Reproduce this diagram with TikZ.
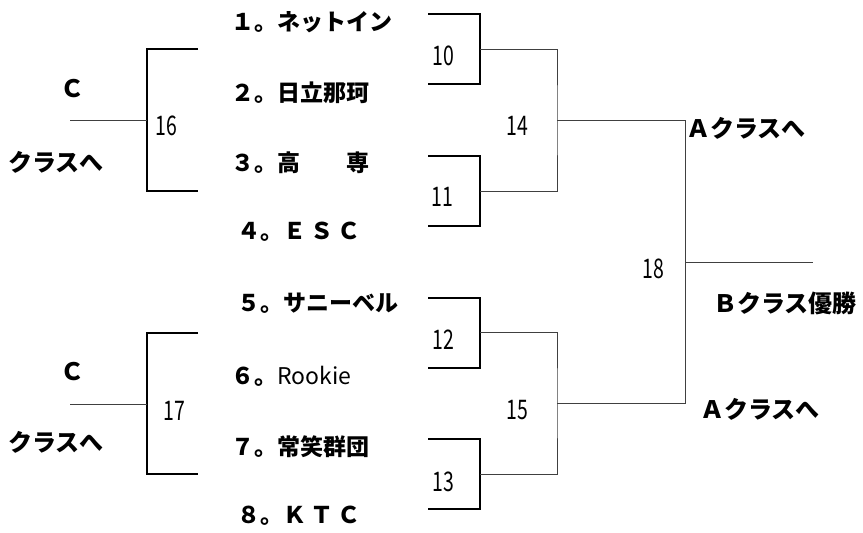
\documentclass[tikz,border=0pt]{standalone}
\usepackage{fontspec}
\newfontfamily\jp{Noto Sans CJK JP}
\newfontfamily\numf{Noto Sans CJK JP}[FakeStretch=0.72]
\begin{document}
\begin{tikzpicture}[x=1pt,y=-1pt,
  team/.style={font=\jp\bfseries\fontsize{23}{23}\selectfont, inner sep=0pt, anchor=west},
  lbl/.style={font=\jp\bfseries\fontsize{24}{24}\selectfont, inner sep=0pt},
  num/.style={font=\numf\fontsize{27}{27}\selectfont, inner sep=0pt},
  thickline/.style={line width=1.8pt, black},
  thinline/.style={line width=0.9pt, black!75}]
\useasboundingbox[fill=white] (0,0) rectangle (863,533);

% team names
\node[team] (t1) at (231,22) {１。ネットイン};
\node[team] (t2) at (231,93) {２。日立那珂};
\node[team] (t3) at (231,163) {３。高　　専};
\node[team] (t4) at (237,232) {４。Ｅ\hspace{4pt}Ｓ\hspace{4pt}Ｃ};
\node[team] (t5) at (237,303) {５。サニーベル};
\node[team] (t6) at (231,376) {６。{\mdseries Rookie}};
\node[team] (t7) at (231,447) {７。常笑群団};
\node[team] (t8) at (237,516) {８。Ｋ\hspace{4pt}Ｔ\hspace{4pt}Ｃ};

% side labels
\node[lbl] (c1) at (72,89) {Ｃ};
\node[lbl, anchor=west] (k1) at (8,162) {クラスへ};
\node[lbl] (c2) at (72,372) {Ｃ};
\node[lbl, anchor=west] (k2) at (8,442) {クラスへ};
\node[lbl, anchor=west] (a1) at (686,128) {Ａクラスへ};
\node[lbl, anchor=west] (b1) at (713,303) {Ｂクラス優勝};
\node[lbl, anchor=west] (a2) at (700,409) {Ａクラスへ};

% match numbers
\node[num] (n10) at (443,56) {10};
\node[num] (n11) at (442,197) {11};
\node[num] (n12) at (443,340) {12};
\node[num] (n13) at (443,482) {13};
\node[num] (n14) at (517,126) {14};
\node[num] (n15) at (517,410) {15};
\node[num] (n16) at (166,126) {16};
\node[num] (n17) at (174,411) {17};
\node[num] (n18) at (653,269) {18};

% coordinates
\coordinate (m10) at (480,49);
\coordinate (m11) at (480,191);
\coordinate (m12) at (480,332);
\coordinate (m13) at (480,474);
\coordinate (j14) at (557,120);
\coordinate (j15) at (557,403);
\coordinate (f14) at (685,120);
\coordinate (f15) at (685,403);
\coordinate (j18) at (685,262);
\coordinate (win) at (813,262);
\coordinate (c16) at (147,120);
\coordinate (c17) at (147,404);
\coordinate (o16) at (70,120);
\coordinate (o17) at (70,404);

% first-round boxes
\draw[thickline] (428,14) -| (m10) |- (428,84);
\draw[thickline] (428,156) -| (m11) |- (428,226);
\draw[thickline] (428,298) -| (m12) |- (428,368);
\draw[thickline] (428,439) -| (m13) |- (428,509);

% C-class brackets
\draw[thickline] (198,49) -| (c16) |- (198,191);
\draw[thickline] (198,333) -| (c17) |- (198,474);
\draw[thinline] (o16) -- (c16);
\draw[thinline] (o17) -- (c17);

% connectors
\draw[thinline] (m10) -| (j14) |- (m11);
\draw[thinline] (m12) -| (j15) |- (m13);
\draw[thinline] (j14) -- (f14) -- (f15) -- (j15);
\draw[thinline] (j18) -- (win);
\end{tikzpicture}
\end{document}
